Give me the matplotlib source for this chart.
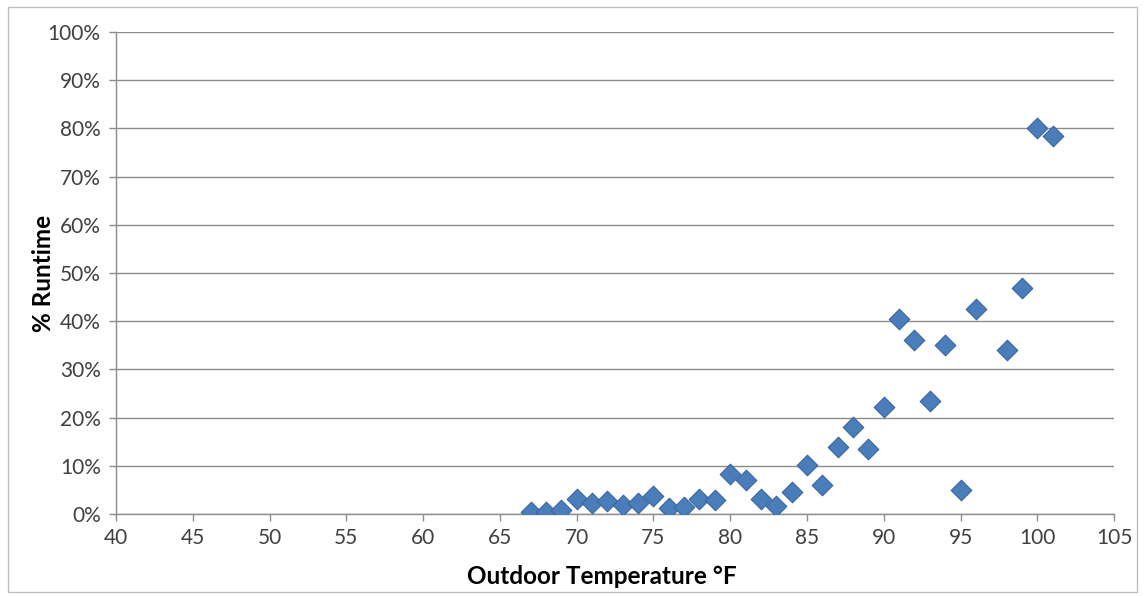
import numpy as np
import matplotlib
matplotlib.use('Agg')
from matplotlib import pyplot as plt
from matplotlib.ticker import FuncFormatter
from matplotlib.patches import Rectangle

# outdoor temperature (F) and % runtime
temps = [67, 68, 69, 70, 71, 72, 73, 74, 75, 76, 77, 78, 79, 80, 81, 82, 83, 84,
         85, 86, 87, 88, 89, 90, 91, 92, 93, 94, 95, 96, 98, 99, 100, 101]
runtime = [0.5, 0.5, 0.8, 3.2, 2.2, 2.7, 1.8, 2.3, 3.8, 1.2, 1.4, 3.2, 2.9, 8.2,
           7.1, 3.2, 1.6, 4.6, 10.2, 6.1, 13.9, 18.1, 13.5, 22.2, 40.5, 36.1,
           23.5, 35.1, 5.0, 42.5, 34.0, 46.9, 80.1, 78.5]

x_ticks = np.arange(40, 106, 5)
y_ticks = np.arange(0, 101, 10)

plt.rcParams['font.family'] = ['Lato', 'DejaVu Sans']

fig = plt.figure(figsize=(11.45, 5.96), dpi=100)
ax = fig.add_axes([0.1013, 0.1376, 0.8717, 0.8087])

ax.scatter(temps, runtime, marker='D', s=110, color='#4a7ebb',
           edgecolors='#3a64a0', linewidths=0.8, zorder=3)

ax.set_xlim(40, 105)
ax.set_ylim(0, 100)
ax.set_xticks(x_ticks)
ax.set_yticks(y_ticks)
ax.yaxis.set_major_formatter(FuncFormatter(lambda v, p: '%d%%' % v))
ax.grid(axis='y', color='#8c8c8c', linewidth=1.0)
ax.set_axisbelow(True)

for s in ['top', 'right']:
    ax.spines[s].set_visible(False)
for s in ['left', 'bottom']:
    ax.spines[s].set_color('#8c8c8c')
    ax.spines[s].set_linewidth(1.0)
ax.tick_params(axis='both', colors='#8c8c8c', labelcolor='#404040',
               labelsize=15, length=5, width=1.0)
ax.tick_params(axis='x', pad=5)
ax.tick_params(axis='y', pad=6)

ax.set_xlabel('Outdoor Temperature °F', fontsize=17.5, fontweight='bold',
              color='black')
ax.xaxis.set_label_coords(0.487, -0.105)
ax.set_ylabel('% Runtime', fontsize=17.5, fontweight='bold', color='black',
              labelpad=-5)

# thin chart border
fig.patches.append(Rectangle((0.007, 0.006), 0.986, 0.982, transform=fig.transFigure,
                             fill=False, edgecolor='#bfbfbf', linewidth=1.0))

fig.savefig('out.png', dpi=100)
